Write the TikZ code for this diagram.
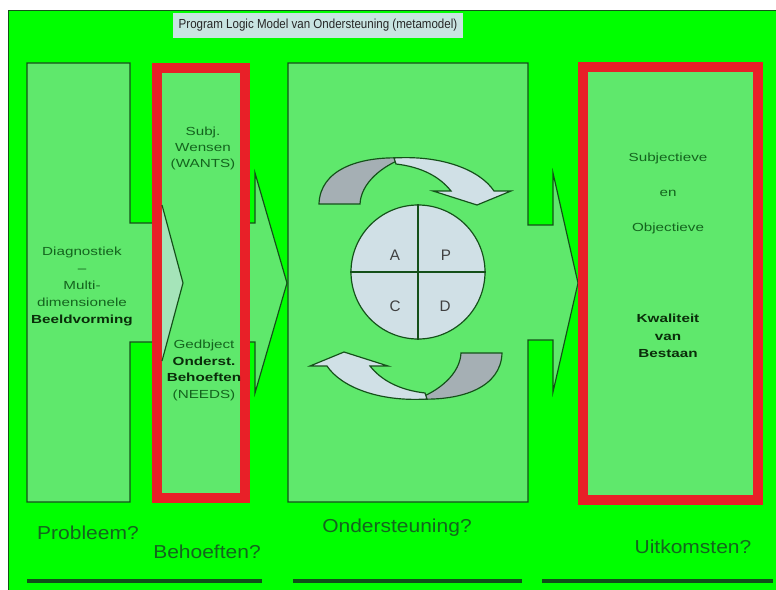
\documentclass[tikz,border=0pt]{standalone}
\usepackage{fontspec}
\setmainfont{Liberation Sans}
\newfontfamily\boxfont{Liberation Sans}[FakeStretch=1.3]
\newfontfamily\askfont{Liberation Sans}[FakeStretch=1.12]
\newfontfamily\headfont{Liberation Sans}[FakeStretch=0.88]
\usetikzlibrary{positioning}

\definecolor{bggreen}{RGB}{0,255,0}
\definecolor{boxgreen}{RGB}{95,232,108}
\definecolor{boxred}{RGB}{232,32,40}
\definecolor{lineclr}{RGB}{20,80,25}
\definecolor{txtgreen}{RGB}{20,100,30}
\definecolor{txtdark}{RGB}{10,45,10}
\definecolor{pdcafill}{RGB}{208,224,230}
\definecolor{darkband}{RGB}{165,175,180}
\definecolor{tipfill}{RGB}{165,228,185}
\definecolor{titlefill}{RGB}{200,228,225}

\begin{document}
\begin{tikzpicture}[x=0.03cm, y=-0.03cm,
  callout/.style={draw=lineclr, line width=1pt, fill=boxgreen},
  redbox/.style={draw=boxred, line width=8.5pt, fill=boxgreen, inner sep=0pt},
  boxtext/.style={font=\boxfont\fontsize{10}{14}\selectfont, text=txtgreen, align=center},
  asktext/.style={font=\askfont\fontsize{16}{18}\selectfont, text=txtgreen},
  band/.style={draw=lineclr, line width=1pt},
  letter/.style={font=\fontsize{13}{13}\selectfont, text=black!75},
  rule/.style={draw=txtgreen!80!black, line width=3.5pt}
]
\useasboundingbox[fill=white] (0,0) rectangle (776,590);
\fill[bggreen] (8,10) rectangle (776,590);
\draw[lineclr, line width=0.8pt] (8,590) -- (8,10) -- (776,10);

\node[fill=titlefill, minimum width=8.7cm, minimum height=0.75cm, inner sep=0pt,
      font=\headfont\fontsize{11.2}{11.2}\selectfont, text=black!85] (title) at (318,25.5)
      {Program Logic Model van Ondersteuning (metamodel)};

\draw[callout] (27,63) -- (130,63) -- (130,223) -- (255,223) -- (255,173) -- (287,283)
  -- (255,393) -- (255,342) -- (130,342) -- (130,502) -- (27,502) -- cycle;
\node[redbox, minimum width=2.64cm, minimum height=12.9cm] (wants) at (201,283) {};
\fill[tipfill] (162,205) -- (183,283) -- (162,361) -- cycle;
\draw[lineclr, line width=1pt] (162,205) -- (183,283) -- (162,361);

\draw[callout] (288,63) -- (528,63) -- (528,225) -- (553,225) -- (553,173) -- (578,283)
  -- (553,392) -- (553,340) -- (528,340) -- (528,502) -- (288,502) -- cycle;
\node[redbox, minimum width=5.25cm, minimum height=12.99cm] (outcome) at (670.5,283.5) {};

\foreach \turn in {0,180} {
  \begin{scope}[rotate around={\turn:(410.5,278.5)}]
    \draw[band, fill=darkband] (319,204) .. controls (320,170) and (358,156) .. (404,158)
      .. controls (382,166) and (361,183) .. (360,204) -- cycle;
    \draw[band, fill=pdcafill] (394,158) .. controls (442,155) and (480,170) .. (494,191)
      -- (511,191) -- (477,205) -- (433,191) -- (451,191)
      .. controls (440,177) and (422,167) .. (396,164) -- cycle;
  \end{scope}
}

\node[circle, draw=lineclr, line width=1pt, fill=pdcafill, minimum size=4.02cm, inner sep=0pt] (pdca) at (418,272) {};
\draw[lineclr, line width=1pt] (pdca.north) -- (pdca.south);
\draw[lineclr, line width=1pt] (pdca.west) -- (pdca.east);
\node[letter] (act) at (395,255) {A};
\node[letter] (plan) at (446,255) {P};
\node[letter] (check) at (395,306) {C};
\node[letter] (do) at (445,306) {D};

\node[boxtext, font=\boxfont\fontsize{10}{14.5}\selectfont] (diag) at (82,286.5)
  {Diagnostiek\\–\\Multi-\\dimensionele\\\textcolor{txtdark}{\bfseries Beeldvorming}};
\node[boxtext] (subj) at (203,148.5) {Subj.\\Wensen\\(WANTS)};
\node[boxtext] (needs) at (204,370.5)
  {Gedbject\\\textcolor{txtdark}{\bfseries Onderst.}\\\textcolor{txtdark}{\bfseries Behoeften}\\(NEEDS)};
\node[boxtext, font=\boxfont\fontsize{10}{30}\selectfont] (subobj) at (668,193.5)
  {Subjectieve\\en\\Objectieve};
\node[boxtext, text=txtdark, font=\boxfont\bfseries\fontsize{10}{15}\selectfont] (quality) at (668,336)
  {Kwaliteit\\van\\Bestaan};

\node[asktext] (probleem) at (88,533) {Probleem?};
\node[asktext] (behoefte) at (207,552) {Behoeften?};
\node[asktext] (steun) at (397,528) {Ondersteuning?};
\node[asktext] (uitkomst) at (693,547) {Uitkomsten?};

\draw[rule] (27,581) -- (262,581);
\draw[rule] (293,581) -- (522,581);
\draw[rule] (542,581) -- (773,581);
\end{tikzpicture}
\end{document}
